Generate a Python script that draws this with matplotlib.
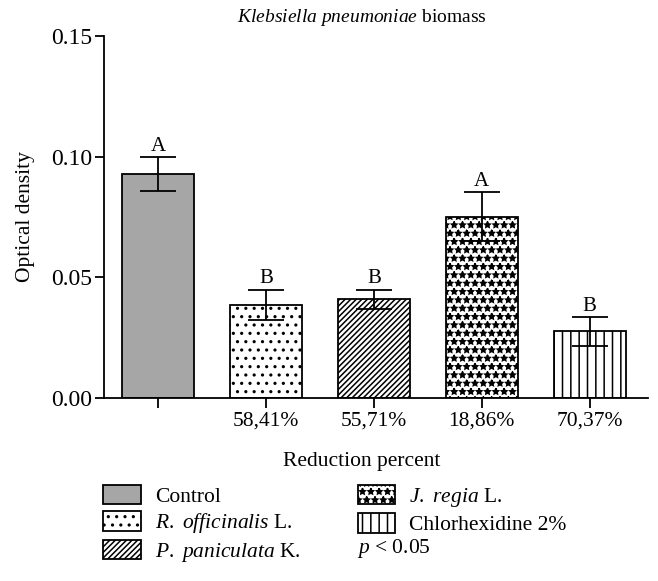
import matplotlib as mpl
import matplotlib.pyplot as plt
import numpy as np
from matplotlib.patches import Patch

mpl.rcParams["font.family"] = "serif"
mpl.rcParams["font.serif"] = ["Liberation Serif", "DejaVu Serif"]
mpl.rcParams["mathtext.fontset"] = "custom"
mpl.rcParams["mathtext.rm"] = "Liberation Serif"
mpl.rcParams["mathtext.it"] = "Liberation Serif:italic"
mpl.rcParams["hatch.linewidth"] = 1.1

groups = [r"Control", r"$\mathit{R.}$ $\mathit{officinalis}$ L.", r"$\mathit{P.}$ $\mathit{paniculata}$ K.",
          r"$\mathit{J.}$ $\mathit{regia}$ L.", "Chlorhexidine 2%"]
tick_labels = ["", "58,41%", "55,71%", "18,86%", "70,37%"]
means = [0.0928, 0.0387, 0.0409, 0.0751, 0.0276]
errors = [0.0069, 0.0062, 0.0039, 0.0101, 0.0060]
letters = ["A", "B", "B", "A", "B"]

facecolors = ["#a6a6a6", "white", "white", "white", "white"]
hatches = [None, "..", "//////", "**", "||"]

LW = 1.3
FS = 15.5

fig = plt.figure(figsize=(6.58, 5.81), dpi=100)
ax = fig.add_axes([104 / 658, 1 - 398 / 581, 544 / 658, 362 / 581])

x = np.arange(len(means))
bars = ax.bar(x, means, width=0.667, color=facecolors, edgecolor="black", linewidth=LW)
for b, h in zip(bars, hatches):
    if h:
        b.set_hatch(h)
ax.errorbar(x, means, yerr=errors, fmt="none", ecolor="black", elinewidth=LW,
            capsize=13, capthick=LW)

for xi, m, e, t in zip(x, means, errors, letters):
    ax.annotate(t, (xi, m + e), xytext=(0, 1), textcoords="offset points",
                ha="center", va="bottom", fontsize=15)

ax.set_xlim(-0.5, 4.54)
ax.set_ylim(0, 0.15)
ax.set_yticks([0, 0.05, 0.10, 0.15])
ax.set_yticklabels(["0.00", "0.05", "0.10", "0.15"])
ax.set_xticks(x)
ax.set_xticklabels(tick_labels)
ax.tick_params(axis="y", length=6.5, width=LW, labelsize=17, pad=2)
ax.tick_params(axis="x", length=7.5, width=LW, labelsize=FS, pad=2)
for s in ["top", "right"]:
    ax.spines[s].set_visible(False)
for s in ["left", "bottom"]:
    ax.spines[s].set_linewidth(LW)

ax.set_ylabel("Optical density", fontsize=FS)
ax.yaxis.set_label_coords(-0.127, 0.5)
ax.set_xlabel("Reduction percent", fontsize=FS)
ax.xaxis.set_label_coords(0.474, -0.148)
ax.set_title(r"$\mathit{Klebsiella}$ $\mathit{pneumoniae}$ biomass", fontsize=14, x=0.474, pad=10)

handles = [Patch(facecolor=fc, edgecolor="black", hatch=h, linewidth=LW, label=g)
           for fc, h, g in zip(facecolors, hatches, groups)]
fig.legend(handles=handles, ncol=2, loc="upper left", bbox_to_anchor=(103 / 658, 1 - 485 / 581),
           frameon=False, fontsize=FS, handlelength=1.75, handleheight=1.0,
           handletextpad=0.65, labelspacing=0.2, columnspacing=2.65, borderpad=0, borderaxespad=0)
fig.text(357 / 658, 1 - 549 / 581, r"$p$ < 0.05", fontsize=FS, va="center", ha="left")

plt.savefig("out.png", dpi=100)
